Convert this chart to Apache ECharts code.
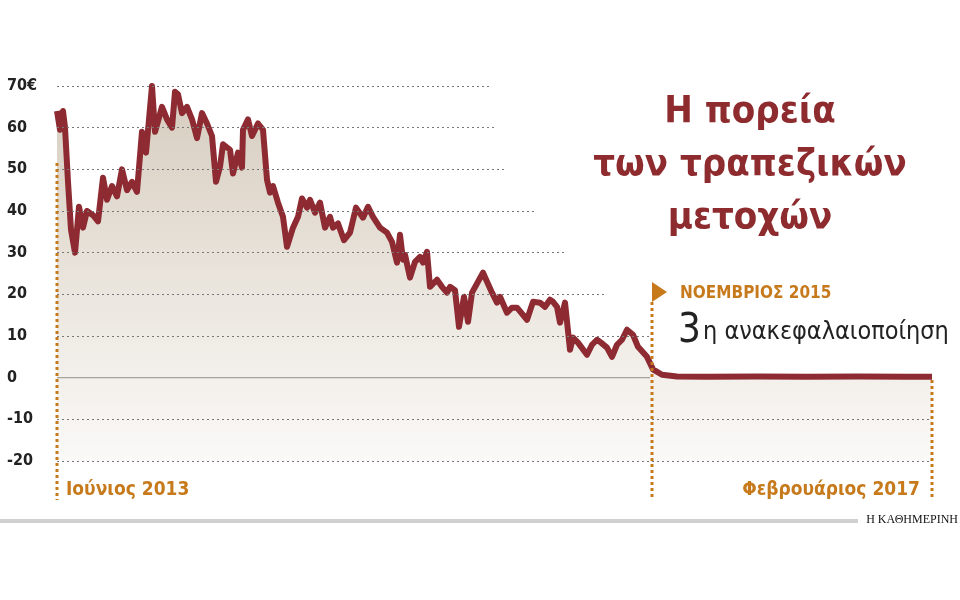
<!DOCTYPE html>
<html><head><meta charset="utf-8">
<script src="https://cdn.jsdelivr.net/npm/echarts@6/dist/echarts.min.js"></script>
<style>html,body{margin:0;padding:0;background:#fff}#c{width:960px;height:600px}</style>
</head><body><div id="c"></div>
<script>
// time index (arbitrary step units, June 2013 -> Feb 2017) and share price in €
const t = [0,3,6,8,11,14,18,22,26,30,36,41,46,50,55,60,65,70,75,80,85,89,95,98,105,110,115,118,121,125,130,135,140,145,150,155,159,163,166,173,176,181,185,186,191,195,201,206,210,213,216,221,226,230,236,241,245,250,253,258,263,268,273,276,281,287,293,299,306,311,316,323,330,335,340,343,346,348,353,358,363,366,370,373,380,385,390,393,398,402,407,411,415,426,435,440,443,450,455,460,470,476,483,488,493,496,500,503,508,513,516,521,530,535,540,544,550,555,560,565,570,576,581,590,596,605,620,650,700,750,800,850,875];
const price = [64,59.5,64,60,47,35.5,30,41,36,40,39,37.5,48,42.7,46,43.5,50,45,47,44.6,59,54,70,59,65,62,60,68.6,68,63.5,65,62,57.5,63.5,61,58,47,50.6,56,54.7,49,54,50.4,59.5,62,58,61,59.5,47.5,44.4,46,42,38.6,31.4,36,38.6,43,40.8,42.7,39.6,42,36,38.6,36,37,33,34.8,40.8,38.4,41,38.6,36,34.8,32.6,27.6,34.3,28.3,29.5,24,27.8,29,27.6,30.2,21.8,23.5,21.8,20.4,21.8,21,12.2,19.4,13.4,20.4,25.2,20.4,18,19.4,15.6,16.8,16.8,13.9,18.2,18,17,18.7,18.2,17,13.2,18,6.7,9.6,8.4,5.5,7.9,9.1,8.4,7.2,5,7.9,9.1,11.5,10.3,7.4,5,2,0.7,0.3,0.2,0.3,0.2,0.3,0.2,0.2];
const yTicks = [70,60,50,40,30,20,10,-10,-20];
const gridEnds = [433,440,448,478,508,550,593,875,875];
const zeroLineEnd = 593;

const data = t.map((x,i)=>[x,price[i]]);
const ml = yTicks.map((v,i)=>[{coord:[0,v]},{coord:[gridEnds[i],v]}]);

const chart = echarts.init(document.getElementById('c'));
const orange = '#c67a1c', red = '#8e2b2e';
chart.setOption({
  animation:false,
  grid:{left:57,right:28,top:86,bottom:139,outerBoundsMode:'none',containLabel:false},
  xAxis:{type:'value',min:0,max:875,show:false},
  yAxis:{type:'value',min:-20,max:70,interval:10,splitLine:{show:false},axisLine:{show:false},axisTick:{show:false},
    axisLabel:{align:'left',margin:50,fontFamily:'DejaVu Sans Condensed',fontWeight:'bold',fontSize:16,color:'#222',
      formatter:v=>v===70?'70€':String(v)}},
  series:[{type:'line',data:data,symbol:'none',z:3,clip:false,
    lineStyle:{color:'#8e2b32',width:6,join:'round'},
    areaStyle:{origin:'start',color:{type:'linear',x:0,y:0,x2:0,y2:1,colorStops:[{offset:0,color:'#c4b6a2'},{offset:0.75,color:'#ece7e0'},{offset:1,color:'#f8f6f3'}]}},
    markLine:{silent:true,symbol:'none',label:{show:false},data:ml,lineStyle:{type:[2,3],color:'#777',width:1}}
  },{type:'line',data:[[0,0],[zeroLineEnd,0]],symbol:'none',z:2,silent:true,lineStyle:{color:'#000',width:1.2}}],
  graphic:[
    {type:'line',shape:{x1:57,y1:163,x2:57,y2:500},style:{stroke:orange,lineWidth:3,lineDash:[3,3]},z:10},
    {type:'line',shape:{x1:652,y1:302,x2:652,y2:500},style:{stroke:orange,lineWidth:3,lineDash:[3,3]},z:10},
    {type:'line',shape:{x1:932,y1:380,x2:932,y2:500},style:{stroke:orange,lineWidth:3,lineDash:[3,3]},z:10},
    {type:'polygon',shape:{points:[[652,282],[667,292],[652,302]]},style:{fill:orange},z:10},
    {type:'text',x:750,y:86,style:{text:'Η πορεία\nτων τραπεζικών\nμετοχών',align:'center',fill:red,font:'bold 38px "DejaVu Sans Condensed"',lineHeight:53}},
    {type:'text',x:680,y:285,style:{text:'ΝΟΕΜΒΡΙΟΣ 2015',fill:orange,font:'bold 17px "DejaVu Sans Condensed"'}},
    {type:'text',x:678,y:312,style:{text:'3',fill:'#222',font:'40px "DejaVu Sans Condensed"'}},
    {type:'text',x:703,y:320,style:{text:'η ανακεφαλαιοποίηση',fill:'#222',font:'25px "DejaVu Sans Condensed"'}},
    {type:'text',x:66,y:481,style:{text:'Ιούνιος 2013',fill:orange,font:'bold 19px "DejaVu Sans Condensed"'}},
    {type:'text',x:920,y:481,style:{text:'Φεβρουάριος 2017',align:'right',fill:orange,font:'bold 19px "DejaVu Sans Condensed"'}},
    {type:'rect',shape:{x:0,y:519,width:858,height:4},style:{fill:'#d0d0d0'}},
    {type:'text',x:958,y:514,style:{text:'Η ΚΑΘΗΜΕΡΙΝΗ',align:'right',fill:'#111',font:'12px "Liberation Serif"'}}
  ]
});
</script></body></html>
